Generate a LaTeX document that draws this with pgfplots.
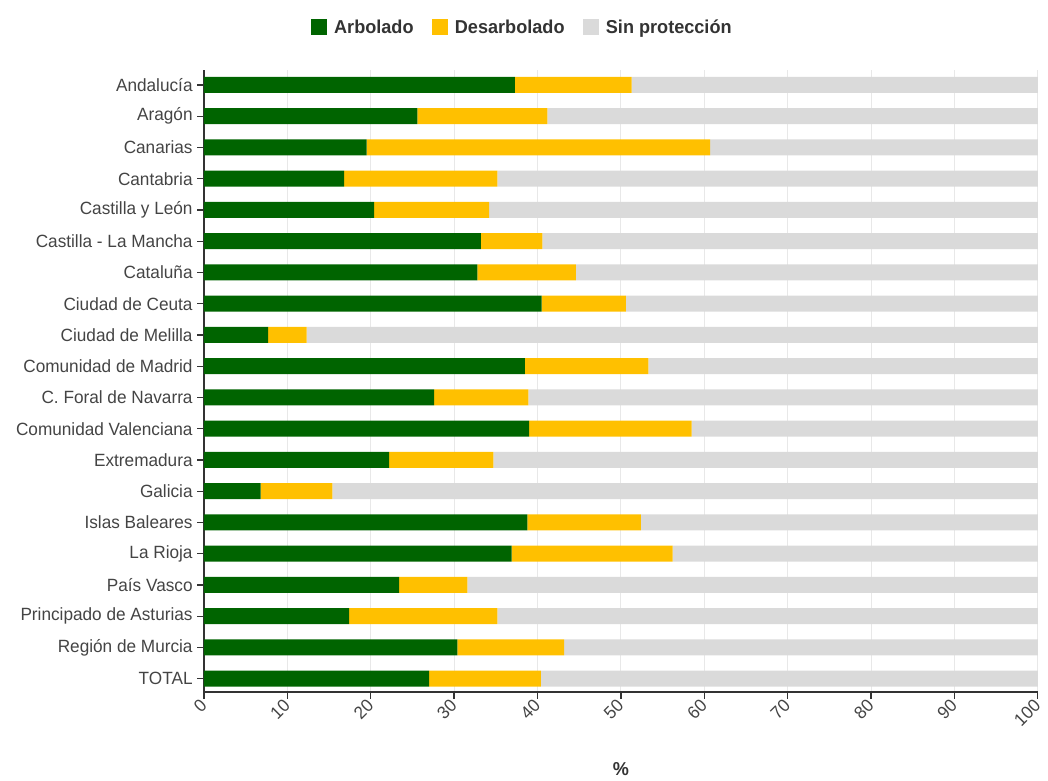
\documentclass[border=0pt]{standalone}
\usepackage{fontspec}
\setmainfont{Liberation Sans}[FakeStretch=0.97]
\usepackage{pgfplots}
\usepackage{pgfplotstable}
\pgfplotsset{compat=1.18}
\definecolor{cgreen}{HTML}{006400}
\definecolor{cyellow}{HTML}{FFC000}
\definecolor{cgray}{HTML}{DADADA}
\definecolor{ctext}{HTML}{444444}
\definecolor{caxis}{HTML}{333333}
\definecolor{cgrid}{HTML}{E8E8E8}
\pgfplotstableread{
y a b c
19 37.3 14.0 48.7
18 25.6 15.6 58.8
17 19.5 41.2 39.3
16 16.8 18.4 64.8
15 20.4 13.8 65.8
14 33.2 7.4 59.4
13 32.8 11.8 55.4
12 40.5 10.1 49.4
11 7.7 4.6 87.7
10 38.5 14.8 46.7
9 27.6 11.3 61.1
8 39.0 19.5 41.5
7 22.2 12.5 65.3
6 6.8 8.6 84.6
5 38.8 13.6 47.6
4 36.9 19.3 43.8
3 23.4 8.2 68.4
2 17.4 17.8 64.8
1 30.4 12.8 56.8
0 27.0 13.4 59.6
}\datatable
\begin{document}
\begin{tikzpicture}
\begin{axis}[
  at={(0pt,0pt)}, anchor=south west,
  scale only axis, width=625.5pt, height=466.5pt,
  xbar stacked, bar width=12pt,
  xmin=0, xmax=100, ymin=-0.42, ymax=19.48,
  xtick={0,10,...,100},
  ytick={0,...,19},
  yticklabels={TOTAL,Región de Murcia,Principado de Asturias,País Vasco,La Rioja,Islas Baleares,Galicia,Extremadura,Comunidad Valenciana,C. Foral de Navarra,Comunidad de Madrid,Ciudad de Melilla,Ciudad de Ceuta,Cataluña,Castilla - La Mancha,Castilla y León,Cantabria,Canarias,Aragón,Andalucía},
  axis x line*=bottom, axis y line*=left,
  axis line style={caxis, line width=1.3pt},
  xmajorgrids, grid style={cgrid, line width=0.6pt},
  tick align=outside, tick pos=left,
  major tick length=5pt,
  tick style={caxis, line width=1pt},
  /pgf/number format/assume math mode=true,
  ticklabel style={font=\fontsize{13.3}{15}\selectfont, text=ctext},
  xticklabel style={rotate=45, anchor=east, yshift=-2pt, xshift=1pt},
  xlabel={\textbf{\%}},
  xlabel style={at={(axis description cs:0.5,0)}, anchor=center, yshift=-58pt, font=\fontsize{14}{16}\selectfont, text=caxis},
  legend style={at={(axis description cs:0.3825,1)}, anchor=center, yshift=32pt, draw=none, fill=none,
     font=\bfseries\fontsize{14}{16}\selectfont, text=caxis, column sep=3pt, /tikz/every even column/.append style={column sep=12pt}},
  legend columns=3,
  legend image code/.code={\fill[#1] (0pt,-6pt) rectangle (12pt,6pt);},
]
\addplot[fill=cgreen, draw=none] table[x=a, y=y] {\datatable};
\addplot[fill=cyellow, draw=none] table[x=b, y=y] {\datatable};
\addplot[fill=cgray, draw=none] table[x=c, y=y] {\datatable};
\legend{Arbolado, Desarbolado, Sin protección}
\end{axis}
\useasboundingbox (-153pt,-66pt) rectangle (633pt,519pt);
\end{tikzpicture}
\end{document}
